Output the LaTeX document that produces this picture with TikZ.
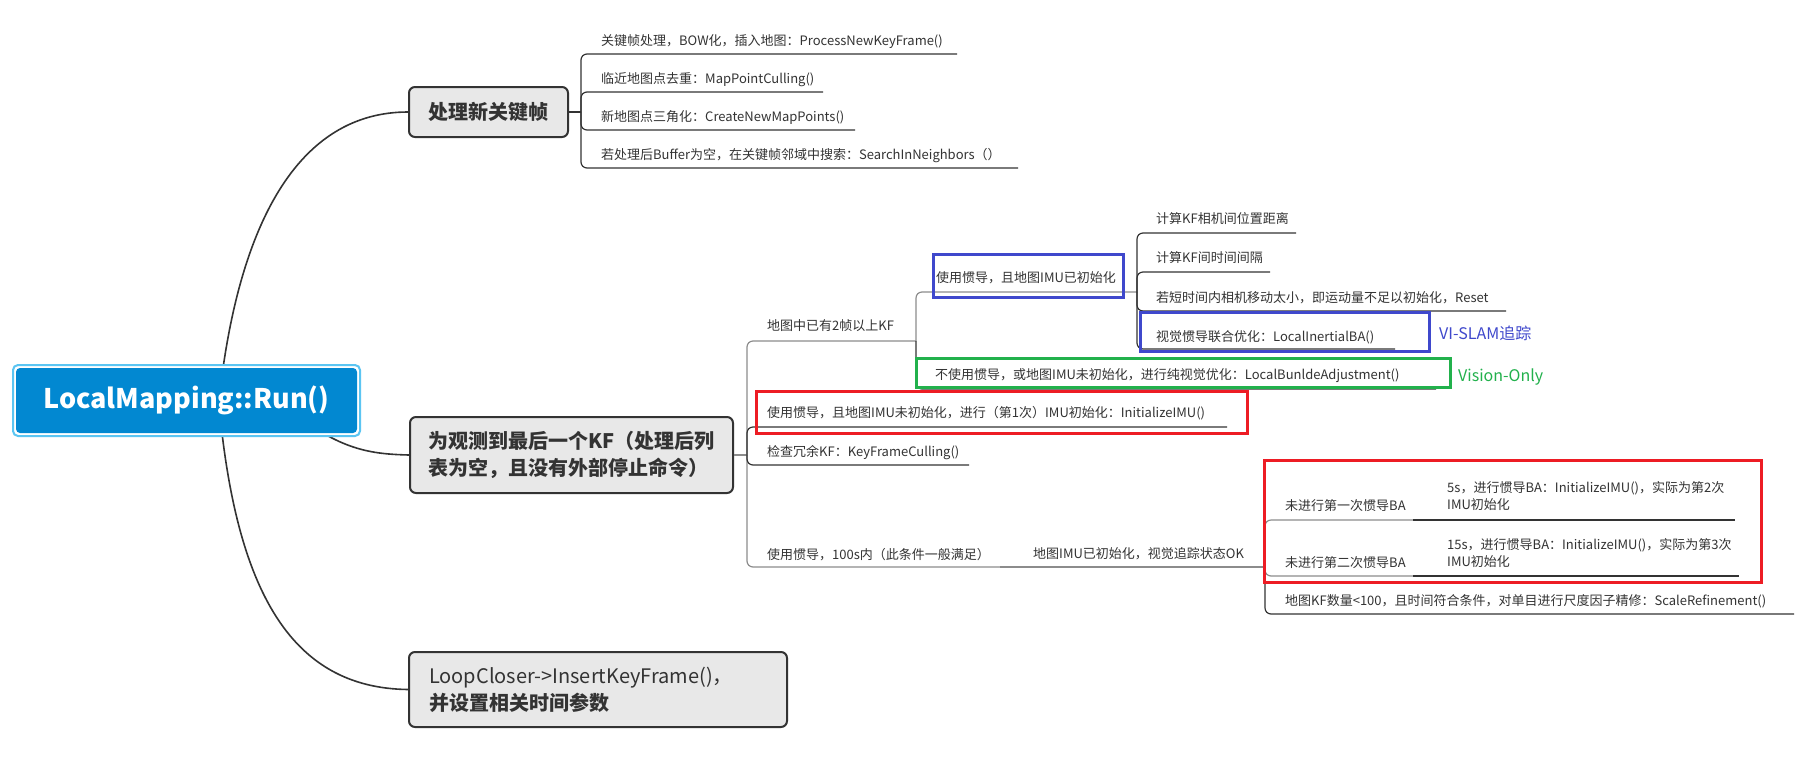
\documentclass[tikz,border=0pt]{standalone}
\usepackage{fontspec}
\setmainfont{Noto Sans CJK SC}
\usetikzlibrary{backgrounds}
\definecolor{rootblue}{HTML}{0288D1}
\definecolor{rootedge}{HTML}{5BC5F2}
\definecolor{mainfill}{HTML}{E8E8E8}
\definecolor{ink}{HTML}{333333}
\definecolor{grayline}{HTML}{8C8C8C}
\definecolor{markred}{HTML}{ED1C24}
\definecolor{markblue}{HTML}{3F48CC}
\definecolor{markgreen}{HTML}{22B14C}
\begin{document}
\begin{tikzpicture}[x=1pt,y=-1pt,
  mainbox/.style={draw=ink, line width=2pt, fill=mainfill, rounded corners=6pt, text=ink, font=\fontsize{20}{27}\selectfont\bfseries, inner ysep=0pt},
  leaf/.style={anchor=west, inner sep=0pt, text=ink, font=\fontsize{13}{17}\selectfont, text height=13pt, text depth=3pt},
  leaftwo/.style={anchor=west, inner sep=0pt, text=ink, font=\fontsize{13}{17}\selectfont, align=left},
  darkline/.style={draw=ink, line width=1.2pt, rounded corners=6pt},
  grayl/.style={draw=grayline, line width=1.2pt, rounded corners=6pt},
  curve/.style={draw=ink, line width=1.6pt},
  markbox/.style={line width=3pt},
  tag/.style={anchor=west, inner sep=0pt, font=\fontsize{16}{18}\selectfont},
]
\useasboundingbox (0,0) rectangle (1813,756);

% root
\node[draw=rootedge, fill=white, line width=2pt, rounded corners=5pt, minimum width=347pt, minimum height=71pt] (rootframe) at (186.5,400.5) {};
\node[fill=rootblue, rounded corners=4pt, minimum width=341pt, minimum height=65pt, text=white, font=\fontsize{27}{32}\selectfont\bfseries] (root) at (186.5,400.5) {LocalMapping::Run()};

% main topics
\node[mainbox, minimum width=159pt, minimum height=50pt] (m1) at (488.5,112) {处理新关键帧};
\node[mainbox, minimum width=323pt, minimum height=76pt, inner xsep=18pt, text width=287pt, align=left] (m2) at (571.5,455) {为观测到最后一个KF（处理后列\\表为空，且没有外部停止命令）};
\node[mainbox, minimum width=378pt, minimum height=75pt, inner xsep=20pt, text width=338pt, align=left] (m3) at (598,689.5) {{\mdseries LoopCloser->InsertKeyFrame()，}\\并设置相关时间参数};

% curves from root
\coordinate (h1) at (217,420);
\coordinate (h2) at (290,410);
\coordinate (h3) at (217,380);
\begin{pgfonlayer}{background}
\fill[white] (0,0) rectangle (1813,756);
\draw[curve] (h1) .. controls (235,220) and (300,112) .. (m1.west);
\draw[curve] (h2) .. controls (340,450) and (370,454) .. (m2.west);
\draw[curve] (h3) .. controls (232,590) and (290,688) .. (m3.west);
\end{pgfonlayer}

% ---- children of m1
\node[leaf] (l11) at (601,40) {关键帧处理，BOW化，插入地图：ProcessNewKeyFrame()};
\node[leaf] (l12) at (601,78) {临近地图点去重：MapPointCulling()};
\node[leaf] (l13) at (601,116) {新地图点三角化：CreateNewMapPoints()};
\node[leaf] (l14) at (601,154) {若处理后Buffer为空，在关键帧邻域中搜索：SearchInNeighbors（）};
\coordinate (j1) at (581,112);
\coordinate (u11) at (957,54);
\coordinate (u12) at (823,92);
\coordinate (u13) at (855,130);
\coordinate (u14) at (1018,168);
\draw[darkline, rounded corners=0pt] (m1.east) -- (j1);
\draw[darkline] (j1) |- (u11);
\draw[darkline] (j1) |- (u12);
\draw[darkline] (j1) |- (u13);
\draw[darkline] (j1) |- (u14);

% ---- children of m2
\node[leaf] (ta) at (767,325) {地图中已有2帧以上KF};
\node[leaf] (tb) at (767,412) {使用惯导，且地图IMU未初始化，进行（第1次）IMU初始化：InitializeIMU()};
\node[leaf] (tc) at (767,451) {检查冗余KF：KeyFrameCulling()};
\node[leaf] (td) at (767,554) {使用惯导，100s内（此条件一般满足）};
\coordinate (j2) at (747,455);
\coordinate (ja) at (916,341);
\coordinate (ub) at (1227,427);
\coordinate (uc) at (969,465);
\coordinate (jd) at (1000,567);
\draw[grayl, rounded corners=0pt] (m2.east) -- (j2);
\draw[grayl] (j2) |- (ja);
\draw[grayl] (j2) |- (jd);
\draw[darkline] (j2) |- (ub);
\draw[darkline] (j2) |- (uc);

% children of a
\node[leaf] (ta1) at (936,277) {使用惯导，且地图IMU已初始化};
\node[leaf] (ta2) at (935,374) {不使用惯导，或地图IMU未初始化，进行纯视觉优化：LocalBunldeAdjustment()};
\coordinate (ja1) at (1137,292);
\coordinate (ua2) at (1436,389);
\draw[grayl] (ja) |- (ja1);
\draw[darkline] (ja) |- (ua2);

% children of a1
\node[leaf] (tk1) at (1156,218) {计算KF相机间位置距离};
\node[leaf] (tk2) at (1156,257) {计算KF间时间间隔};
\node[leaf] (tk3) at (1156,297) {若短时间内相机移动太小，即运动量不足以初始化，Reset};
\node[leaf] (tk4) at (1156,336) {视觉惯导联合优化：LocalInertialBA()};
\coordinate (uk1) at (1296,233);
\coordinate (uk2) at (1270,272);
\coordinate (uk3) at (1506,311);
\coordinate (uk4) at (1395,349);
\draw[darkline] (ja1) |- (uk1);
\draw[darkline] (ja1) |- (uk2);
\draw[darkline] (ja1) |- (uk3);
\draw[darkline] (ja1) |- (uk4);

% child of d
\node[leaf] (tg) at (1033,553) {地图IMU已初始化，视觉追踪状态OK};
\coordinate (jg) at (1265,567);
\draw[grayl] (jd) -- (jg);

% children of g
\node[leaf] (te1) at (1285,505) {未进行第一次惯导BA};
\node[leaf] (te2) at (1285,562) {未进行第二次惯导BA};
\node[leaf] (te3) at (1285,600) {地图KF数量<100，且时间符合条件，对单目进行尺度因子精修：ScaleRefinement()};
\node[leaftwo] (te1c) at (1447,496.5) {5s，进行惯导BA：InitializeIMU()，实际为第2次\\IMU初始化};
\node[leaftwo] (te2c) at (1447,553.5) {15s，进行惯导BA：InitializeIMU()，实际为第3次\\IMU初始化};
\coordinate (je1) at (1413,520);
\coordinate (je2) at (1413,576);
\coordinate (ue3) at (1794,614);
\coordinate (ue1c) at (1735,520);
\coordinate (ue2c) at (1739,576);
\draw[grayl] (jg) |- (je1);
\draw[grayl] (jg) |- (je2);
\draw[darkline] (jg) |- (ue3);
\draw[darkline] (je1) -- (ue1c);
\draw[darkline] (je2) -- (ue2c);

% annotation boxes
\draw[markbox, markblue] (933,254) rectangle (1123,297);
\draw[markbox, markblue] (1140,312) rectangle (1429,351);
\draw[markbox, markgreen] (916,358) rectangle (1450,387);
\draw[markbox, markred] (756,391) rectangle (1247,433);
\draw[markbox, markred] (1264,460) rectangle (1761,582);
\node[tag, text=markblue] (vislam) at (1439,333) {VI-SLAM追踪};
\node[tag, text=markgreen] (vonly) at (1458,377) {Vision-Only};
\end{tikzpicture}
\end{document}
